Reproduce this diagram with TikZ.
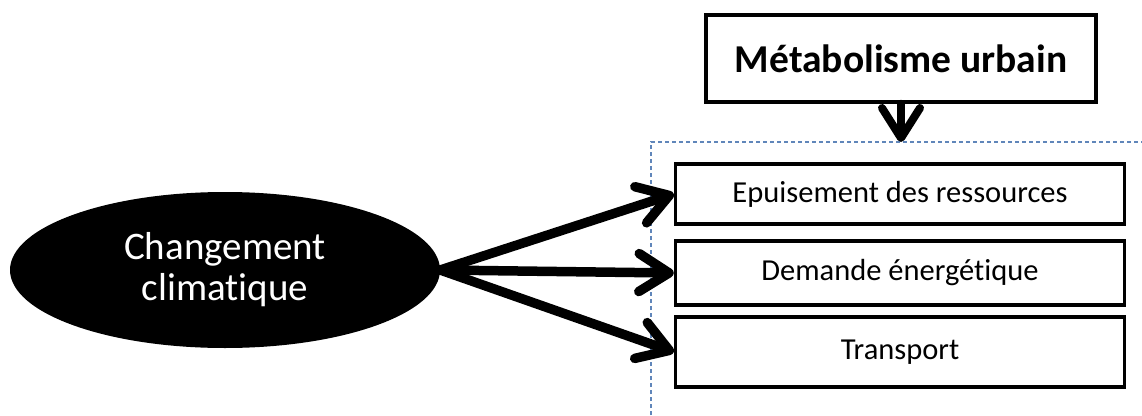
\documentclass[tikz,border=0pt]{standalone}
\usepackage{fontspec}
\setmainfont{Carlito}[Ligatures=NoCommon]
\usetikzlibrary{arrows.meta, positioning, shapes.geometric}

\definecolor{framecol}{RGB}{96,134,186}

\begin{document}
\begin{tikzpicture}[
    x=1pt, y=-1pt,
    box/.style={draw, rectangle, line width=3.5pt, minimum width=449pt, align=center, font=\fontsize{30.5}{36}\selectfont},
    titlebox/.style={draw, rectangle, line width=3.5pt, minimum width=390pt, minimum height=87pt, align=center, font=\fontsize{39.5}{46}\selectfont\bfseries},
    arrow/.style={line width=9.5pt, line cap=round, -{Straight Barb[length=30pt, width=38pt, line cap=round, line join=round]}},
    dashframe/.style={draw=framecol, line width=1.2pt, dash pattern=on 4pt off 3pt}
]
\useasboundingbox (0,0) rectangle (1142,415);

\node (clim) [ellipse, fill=black, minimum width=430pt, minimum height=156pt, text=white, align=center, font=\fontsize{39}{41}\selectfont] at (225,270) {Changement\\climatique};

\node (metab) [titlebox] at (901,58.5) {Métabolisme urbain};
\node (epuis) [box, minimum height=60pt] at (900,194) {Epuisement des ressources};
\node (demande) [box, minimum height=64pt] at (900,273) {Demande énergétique};
\node (transp) [box, minimum height=70pt] at (900,352) {Transport};

% cadre pointille
\coordinate (frametop) at (651,142);
\draw[dashframe] (651,415) -- (frametop) -- (1142,142);

\draw[arrow, line width=8pt] (metab.south) -- (metab.south |- frametop);
\draw[arrow] (clim.east) -- (epuis.west);
\draw[arrow] (clim.east) -- (demande.west);
\draw[arrow] (clim.east) -- (transp.west);
\end{tikzpicture}
\end{document}
